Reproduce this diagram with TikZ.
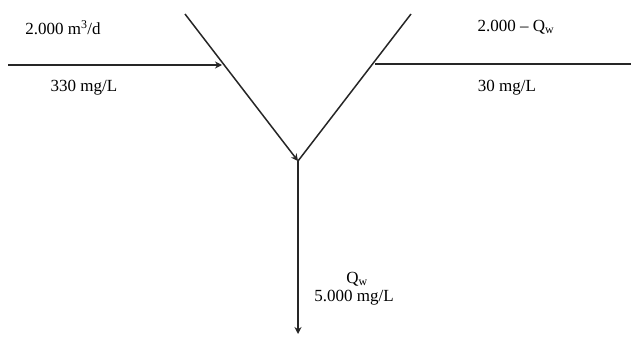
\documentclass[tikz,border=0pt]{standalone}
\usepackage{fontspec}
\setmainfont{Liberation Serif}
\usetikzlibrary{arrows.meta}
\begin{document}
\begin{tikzpicture}[x=1pt,y=-1pt,
  flow/.style={line width=1.5pt,draw=black!85},
  tip/.style={-{Stealth[length=7pt,width=7pt]}},
  lbl/.style={font=\fontsize{17}{19}\selectfont,text=black,inner sep=0pt,anchor=center}]
\useasboundingbox (0,0) rectangle (631,337);
\coordinate (lt) at (185,14);
\coordinate (rt) at (411,14);
\coordinate (v) at (298,161);
\coordinate (li) at (222,65);
\coordinate (ri) at (375,64);
\coordinate (lin) at (8,65);
\coordinate (rout) at (631,64);
\coordinate (bot) at (298,334);
\draw[flow,tip] (lt) -- (v);
\draw[flow] (rt) -- (v);
\draw[flow,tip] (lin) -- (li);
\draw[flow] (ri) -- (rout);
\draw[flow,tip] (v) -- (bot);
\node[lbl] (a) at (63,28) {2.000 m\textsuperscript{3}/d};
\node[lbl] (b) at (84,88) {330 mg/L};
\node[lbl] (c) at (516,27) {2.000 – Q\textsubscript{w}};
\node[lbl] (d) at (507,88) {30 mg/L};
\node[lbl] (e) at (357,279) {Q\textsubscript{w}};
\node[lbl] (f) at (354,298) {5.000 mg/L};
\end{tikzpicture}
\end{document}
